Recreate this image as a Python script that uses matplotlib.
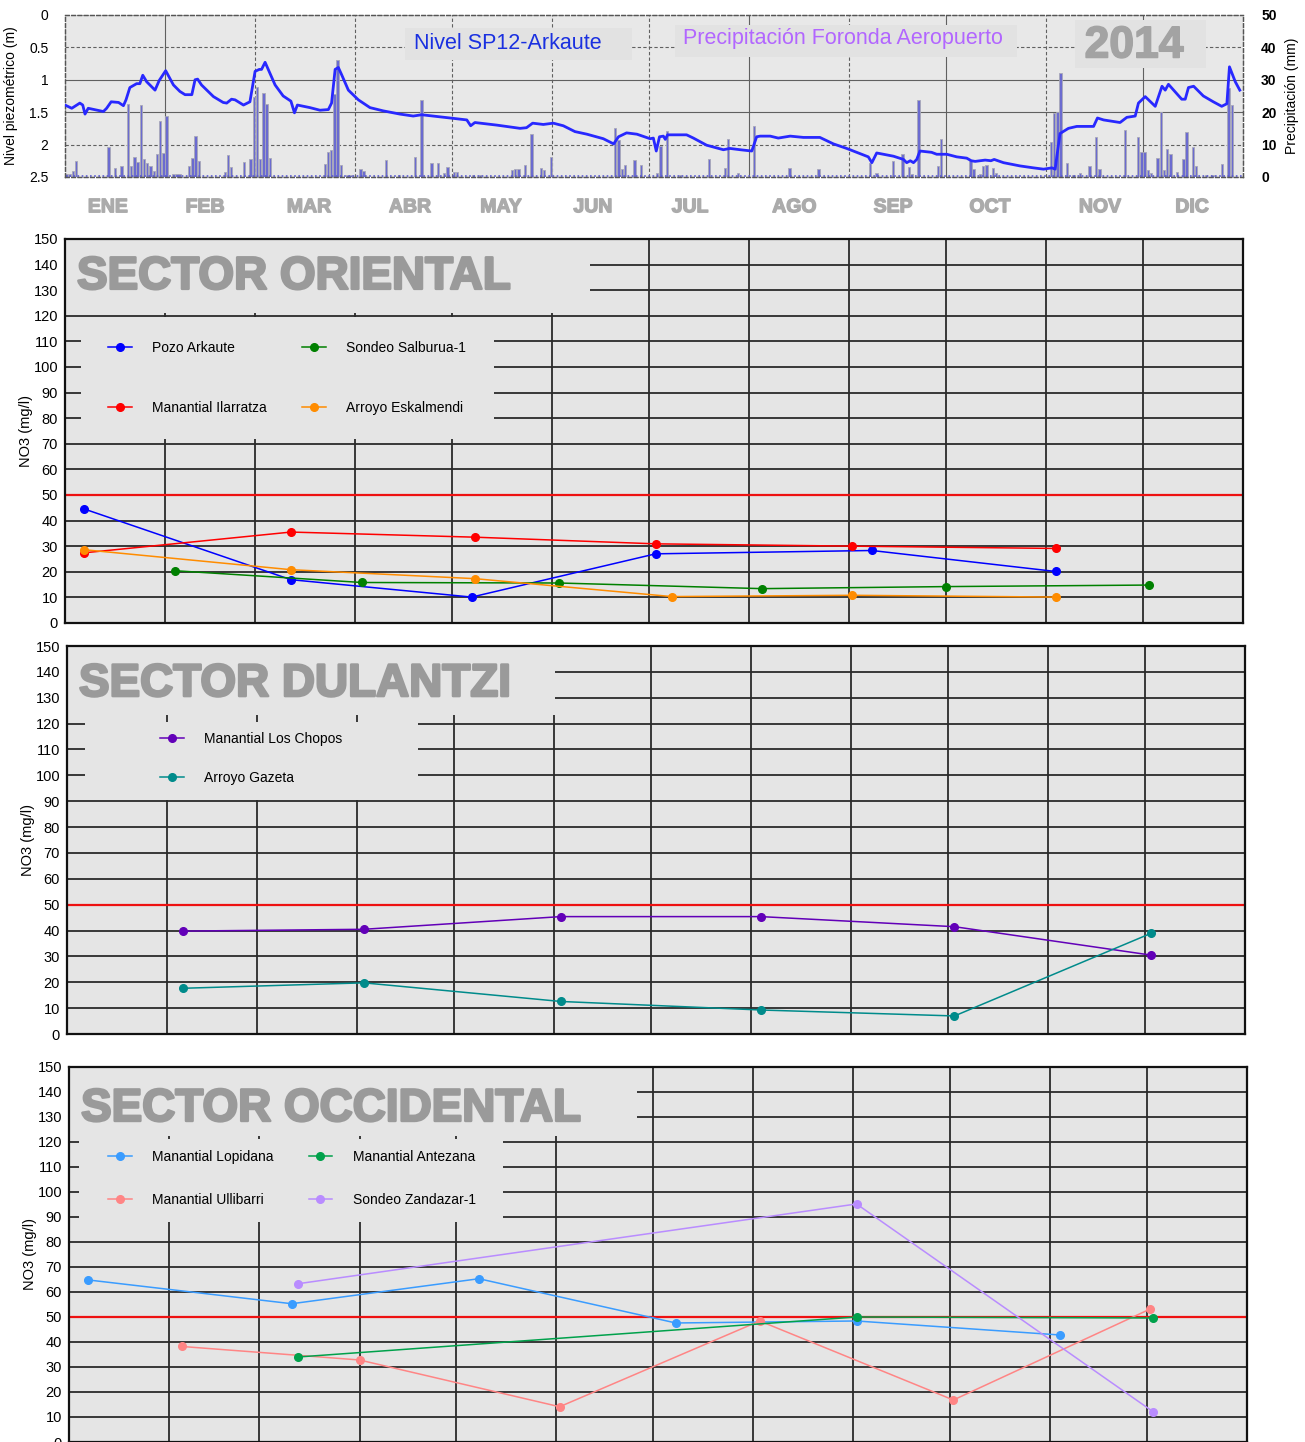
import numpy as np
import matplotlib
matplotlib.use("Agg")
import matplotlib.pyplot as plt
from matplotlib.patches import Rectangle
import matplotlib.patheffects as pe

plt.rcParams['font.family'] = ['Liberation Sans', 'DejaVu Sans']

# ---------------- data ----------------
month_len = [31, 28, 31, 30, 31, 30, 31, 31, 30, 31, 30, 31]
month_names = ["ENE", "FEB", "MAR", "ABR", "MAY", "JUN", "JUL", "AGO", "SEP", "OCT", "NOV", "DIC"]
# where the month names sit under the top panel (day of year)
month_label_day = [13.3, 43.4, 75.6, 106.9, 135.1, 163.6, 193.7, 226.0, 256.6, 286.6, 320.7, 349.2]

# piezometric level SP12-Arkaute (day of year, m below ground)
level_day = [0, 2.1, 4.6, 5.5, 6.2, 7.2, 11.9, 12.9, 14.3, 16.6, 18.1, 18.9, 20.1, 22.2, 23.2, 24.1,
             25.3, 27.9, 29.2, 31.2, 33.6, 35.6, 37.2, 39.3, 40.3, 41.1, 42.3, 46, 49, 50.1, 51.6,
             52.7, 55.3, 57.3, 58.9, 60.2, 60.9, 62, 63.5, 65.1, 67.6, 70, 71.1, 72, 75.9, 79,
             81.6, 82.6, 83.7, 84.7, 85.7, 87.8, 90.9, 94.5, 98.6, 103.8, 107.9, 110.5, 114.1,
             119.3, 124.5, 125.7, 127, 133.8, 141, 143, 144.9, 148.2, 151.3, 154.4, 158, 161.7,
             166.8, 170, 171.5, 174, 177.2, 181.3, 182.3, 183.2, 184.2, 185.4, 186, 186.7, 192.6,
             194.7, 198.8, 204, 206, 209.2, 212.8, 214.3, 215.4, 218.5, 221, 224.7, 228.8, 233.9,
             238.1, 242.2, 245.3, 248.9, 250, 251.5, 256.7, 259.8, 260.8, 261.9, 262.9, 263.9,
             264.9, 268.5, 270.1, 273.2, 276.3, 279.4, 280.8, 282, 285.1, 286.9, 287.9, 290.8,
             295.9, 300.1, 303.2, 305.8, 306.8, 307.3, 308.3, 310.9, 313.5, 318.7, 319.9, 321.8,
             326.9, 329, 331.6, 332.6, 334.7, 337.8, 339.9, 340.9, 341.9, 346, 347.1, 348.1,
             349.7, 352.7, 355.8, 358.4, 360, 360.8, 362.6, 364]
level_m = [1.39, 1.44, 1.36, 1.39, 1.53, 1.44, 1.49, 1.44, 1.34, 1.35, 1.40, 1.31, 1.12, 1.06, 1.06, 0.93,
           1.03, 1.16, 1.01, 0.86, 1.08, 1.18, 1.23, 1.23, 1.00, 0.99, 1.08, 1.26, 1.35, 1.36, 1.30,
           1.31, 1.39, 1.34, 0.87, 0.84, 0.84, 0.73, 0.90, 1.08, 1.25, 1.33, 1.51, 1.39, 1.43, 1.47,
           1.46, 1.36, 0.84, 0.81, 0.92, 1.16, 1.31, 1.43, 1.48, 1.53, 1.56, 1.54, 1.56,
           1.59, 1.62, 1.71, 1.66, 1.70, 1.75, 1.74, 1.67, 1.69, 1.67, 1.71, 1.80, 1.84,
           1.91, 1.99, 1.88, 1.82, 1.84, 1.91, 1.90, 2.10, 1.88, 1.87, 1.92, 1.85, 1.85,
           1.90, 2.01, 2.08, 2.06, 2.08, 2.10, 1.88, 1.87, 1.87, 1.90, 1.87, 1.89, 1.89,
           1.99, 2.06, 2.12, 2.19, 2.28, 2.13, 2.18, 2.23, 2.28, 2.25, 2.28, 2.23,
           2.10, 2.12, 2.15, 2.15, 2.19, 2.21, 2.25, 2.26, 2.24, 2.25, 2.23, 2.28,
           2.33, 2.36, 2.38, 2.36, 2.38, 2.19, 1.83, 1.75, 1.72, 1.72, 1.59, 1.62,
           1.66, 1.58, 1.56, 1.36, 1.26, 1.41, 1.10, 1.16, 1.07, 1.30, 1.30, 1.12,
           1.10, 1.25, 1.34, 1.41, 1.37, 0.80, 1.03, 1.16]

# daily precipitation Foronda Aeropuerto (day of year, mm)
precip_day = [0, 1, 2, 3, 13, 15, 17, 19, 20, 21, 22, 23, 24, 25, 26, 27, 28, 29, 30, 31, 33, 34, 35,
              38, 39, 40, 41, 49, 50, 51, 55, 57, 58, 59, 60, 61, 62, 63, 80, 81, 82, 83, 84, 85,
              87, 88, 91, 92, 99, 103, 108, 110, 113, 115, 117, 118, 120, 121, 126, 128, 138, 139,
              140, 142, 144, 147, 148, 150, 170, 171, 172, 173, 176, 178, 183, 184, 186, 190, 199,
              204, 205, 208, 213, 224, 233, 249, 251, 256, 259, 261, 262, 264, 270, 271, 280, 281,
              283, 284, 285, 287, 288, 305, 306, 307, 308, 310, 312, 314, 317, 319, 320, 328, 332,
              333, 334, 335, 336, 338, 339, 340, 341, 342, 344, 346, 347, 349, 350, 353, 355, 358,
              360, 361]
precip_mm = [1.0, 1.0, 1.8, 5.0, 9.3, 2.9, 3.4, 22.6, 3.4, 6.2, 4.6, 22.1, 5.6, 4.3, 3.4, 1.8, 7.2, 17.3,
             7.4, 18.7, 0.8, 1.0, 1.0, 3.4, 6.0, 12.7, 4.8, 1.5, 6.7, 3.0, 4.7, 5.6, 24.7, 27.8, 5.6,
             26.0, 22.6, 6.0, 4.1, 7.7, 8.2, 25.5, 36.0, 3.6, 0.6, 0.6, 2.3, 1.7, 5.1, 0.7, 6.2, 23.7,
             4.3, 4.3, 1.2, 3.1, 1.5, 1.5, 0.5, 0.6, 2.0, 2.3, 2.3, 3.6, 13.4, 2.9, 2.0, 6.2, 15.1,
             11.3, 2.6, 3.8, 5.1, 3.6, 1.2, 9.5, 14.1, 0.6, 5.6, 2.8, 11.8, 1.2, 15.7, 2.8, 2.3, 4.3,
             1.2, 4.8, 7.2, 3.1, 0.8, 23.9, 3.3, 11.7, 4.9, 2.4, 1.0, 3.3, 3.8, 2.8, 1.3, 10.7, 19.8,
             20.2, 32.2, 4.3, 0.6, 1.3, 3.5, 12.2, 2.6, 14.6, 12.2, 7.7, 7.7, 2.0, 1.2, 5.9, 20.2,
             2.0, 8.7, 7.0, 1.5, 5.5, 13.9, 9.2, 3.3, 0.6, 0.6, 3.9, 27.6, 22.3]

# NO3 (mg/l) - Sector Oriental
arkaute_dates = ["2014-01-07", "2014-03-12", "2014-05-07", "2014-07-03", "2014-09-08", "2014-11-04"]
arkaute_no3 = [44.5, 16.9, 10.1, 27.0, 28.3, 20.1]
ilarratza_dates = ["2014-01-07", "2014-03-12", "2014-05-08", "2014-07-03", "2014-09-02", "2014-11-04"]
ilarratza_no3 = [27.4, 35.5, 33.5, 30.9, 30.0, 29.1]
salburua_dates = ["2014-02-04", "2014-04-03", "2014-06-03", "2014-08-05", "2014-10-01", "2014-12-03"]
salburua_no3 = [20.4, 15.8, 15.6, 13.4, 14.2, 14.8]
eskalmendi_dates = ["2014-01-07", "2014-03-12", "2014-05-08", "2014-07-08", "2014-09-02", "2014-11-04"]
eskalmendi_no3 = [28.6, 20.8, 17.3, 10.3, 10.8, 10.1]

# Sector Dulantzi
dulantzi_dates = ["2014-02-06", "2014-04-03", "2014-06-03", "2014-08-04", "2014-10-03", "2014-12-03"]
chopos_no3 = [39.8, 40.5, 45.4, 45.4, 41.5, 30.5]
gazeta_no3 = [17.7, 19.8, 12.6, 9.3, 7.0, 39.0]

# Sector Occidental
lopidana_dates = ["2014-01-07", "2014-03-11", "2014-05-08", "2014-07-08", "2014-09-02", "2014-11-04"]
lopidana_no3 = [64.8, 55.3, 65.3, 47.6, 48.4, 42.8]
ullibarri_dates = ["2014-02-05", "2014-04-01", "2014-06-02", "2014-08-03", "2014-10-02", "2014-12-02"]
ullibarri_no3 = [38.2, 32.8, 14.1, 48.4, 16.8, 53.2]
antezana_dates = ["2014-03-13", "2014-09-02", "2014-12-03"]
antezana_no3 = [34.0, 50.0, 49.6]
zandazar_dates = ["2014-03-13", "2014-09-02", "2014-12-03"]
zandazar_no3 = [63.3, 95.2, 12.0]

limit_no3 = 50


def doy(dates):
    return (np.array(dates, dtype="datetime64[D]") - np.datetime64("2014-01-01")).astype(float)


month_start = np.concatenate([[0], np.cumsum(month_len)])

fig = plt.figure(figsize=(13.05, 14.42), dpi=100)

# ---------------- top panel: level + precipitation ----------------
axp = fig.add_axes([0.0498, 0.8773, 0.9027, 0.1123])
axl = axp.twinx()
axl.set_zorder(axp.get_zorder() + 1)
axl.patch.set_visible(False)
axp.set_facecolor("#e8e8e8")

# grid drawn on the precipitation axes so it stays behind the level line
solid_v = [1, 7, 9, 11]
for i, m in enumerate(month_start[1:-1]):
    axp.axvline(m, color="#606060", lw=0.8, ls="-" if i + 1 in solid_v else (0, (3, 2)), zorder=0)
for lev in [0.5, 1.0, 1.5, 2.0]:
    axp.axhline((2.5 - lev) * 20, color="#606060", lw=0.8,
                ls="-" if lev in (1.0, 1.5) else (0, (3, 2)), zorder=0)

axp.bar(np.array(precip_day) + 0.5, precip_mm, width=0.75, color="#6b6bd0",
        edgecolor="#a8a8b8", linewidth=0.6, zorder=2)
axp.axhline(0.15, color="#5a5ad0", lw=1.2, ls=(0, (1, 1.5)), zorder=2)
axp.set_ylim(0, 50)
axp.set_xlim(0, 365)
axp.yaxis.tick_right()
axp.yaxis.set_label_position("right")
axp.set_yticks([0, 10, 20, 30, 40, 50])
axp.tick_params(axis="y", length=0, pad=13, labelsize=10)
for t in axp.get_yticklabels():
    t.set_fontweight("bold")
axp.set_ylabel("Precipitación (mm)", fontsize=10)
axp.yaxis.set_label_coords(1.036, 0.5)
axp.set_xticks([])

axl.plot(level_day, level_m, color="#2828ff", lw=2, zorder=3)
axl.set_ylim(2.5, 0)
axl.set_xlim(0, 365)
axl.yaxis.tick_left()
axl.yaxis.set_label_position("left")
axl.set_yticks([0, 0.5, 1, 1.5, 2, 2.5])
axl.set_yticklabels(["0", "0.5", "1", "1.5", "2", "2.5"])
axl.tick_params(axis="y", length=0, pad=12, labelsize=10)
axl.set_ylabel("Nivel piezométrico (m)", fontsize=10)
axl.yaxis.set_label_coords(-0.040, 0.5)

for ax in (axp, axl):
    for s in ax.spines.values():
        s.set_color("#555555")
        s.set_linestyle((0, (3, 2)))
        s.set_linewidth(0.9)

# text boxes
for (x0, x1, y0, y1) in [(0.2886, 0.4813, 0.722, 0.920), (0.518, 0.808, 0.741, 0.938),
                         (0.857, 0.969, 0.673, 0.969)]:
    axl.add_patch(Rectangle((x0, y0), x1 - x0, y1 - y0, transform=axl.transAxes,
                            facecolor="#e2e2e2", edgecolor="none", zorder=4))
axl.text(0.376, 0.827, "Nivel SP12-Arkaute", transform=axl.transAxes, ha="center", va="center",
         fontsize=15.5, color="#1a30e0", zorder=5)
axl.text(0.660, 0.852, "Precipitación Foronda Aeropuerto", transform=axl.transAxes,
         ha="center", va="center", fontsize=15.5, color="#b266ff", zorder=5)
axl.text(0.9075, 0.809, "2014", transform=axl.transAxes, ha="center", va="center",
         fontsize=32, fontweight="bold", color="#a3a3a3", zorder=5,
         path_effects=[pe.withStroke(linewidth=1.2, foreground="#a3a3a3")])

for name, d in zip(month_names, month_label_day):
    axl.text(d, -0.19, name, transform=axl.get_xaxis_transform(), ha="center", va="center",
             fontsize=14, fontweight="bold", color="#ababab",
             path_effects=[pe.withStroke(linewidth=1.0, foreground="#ababab")])

# ---------------- NO3 panels ----------------
panels = [
    dict(rect=[0.0498, 0.5680, 0.9027, 0.2663], title="SECTOR ORIENTAL", ty=0.870,
         tbox=(0, 0.4457, 0.808, 1.0), lbox=(0.0136, 0.3642, 0.478, 0.797),
         series=[("Pozo Arkaute", arkaute_dates, arkaute_no3, "#0000ff"),
                 ("Manantial Ilarratza", ilarratza_dates, ilarratza_no3, "#ff0000"),
                 ("Sondeo Salburua-1", salburua_dates, salburua_no3, "#008000"),
                 ("Arroyo Eskalmendi", eskalmendi_dates, eskalmendi_no3, "#ff8c00")],
         ncol=2, lspace=3.3, lanchor=(0.0365, 0.735)),
    dict(rect=[0.0513, 0.2829, 0.9027, 0.2691], title="SECTOR DULANTZI", ty=0.871,
         tbox=(0, 0.4143, 0.822, 1.0), lbox=(0.0153, 0.298, 0.603, 0.805),
         series=[("Manantial Los Chopos", dulantzi_dates, chopos_no3, "#6200b8"),
                 ("Arroyo Gazeta", dulantzi_dates, gazeta_no3, "#008b8b")],
         ncol=1, lspace=1.8, lanchor=(0.079, 0.778)),
    dict(rect=[0.0529, 0.0, 0.9027, 0.2601], title="SECTOR OCCIDENTAL", ty=0.856,
         tbox=(0, 0.482, 0.816, 1.0), lbox=(0.0085, 0.368, 0.587, 0.807),
         series=[("Manantial Lopidana", lopidana_dates, lopidana_no3, "#3a9cff"),
                 ("Manantial Ullibarri", ullibarri_dates, ullibarri_no3, "#ff8585"),
                 ("Manantial Antezana", antezana_dates, antezana_no3, "#00a14b"),
                 ("Sondeo Zandazar-1", zandazar_dates, zandazar_no3, "#b98cff")],
         ncol=2, lspace=2.1, lanchor=(0.033, 0.779)),
]

for p in panels:
    ax = fig.add_axes(p["rect"])
    ax.set_facecolor("#e5e5e5")
    ax.set_xlim(0, 365)
    ax.set_ylim(0, 150)
    for m in month_start[1:-1]:
        ax.axvline(m, color="#2a2a2a", lw=1.3, zorder=0.5)
    for v in range(10, 150, 10):
        ax.axhline(v, color="#2a2a2a", lw=1.3, zorder=0.5)
    x0, x1, y0, y1 = p["tbox"]
    ax.add_patch(Rectangle((x0, y0), x1 - x0, y1 - y0, transform=ax.transAxes,
                           facecolor="#e5e5e5", edgecolor="none", zorder=1))
    x0, x1, y0, y1 = p["lbox"]
    ax.add_patch(Rectangle((x0, y0), x1 - x0, y1 - y0, transform=ax.transAxes,
                           facecolor="#e5e5e5", edgecolor="none", zorder=1))
    ax.text(0.0102, p["ty"], p["title"], transform=ax.transAxes, ha="left", va="baseline",
            fontsize=33, fontweight="bold", color="#9a9a9a", zorder=2,
            path_effects=[pe.withStroke(linewidth=1.8, foreground="#9a9a9a")])
    ax.axhline(limit_no3, color="#ee1111", lw=1.6, zorder=2)
    handles = []
    for label, dates, vals, col in p["series"]:
        h, = ax.plot(doy(dates), vals, color=col, lw=1.1, marker="o", ms=5.5, zorder=3,
                     label=label)
        handles.append(h)
    ax.legend(handles=handles, ncol=p["ncol"], loc="upper left", bbox_to_anchor=p["lanchor"],
              frameon=False, fontsize=10, labelspacing=p["lspace"], columnspacing=2.5,
              handlelength=1.7, handletextpad=1.5, borderpad=0, borderaxespad=0)
    ax.set_yticks(range(0, 151, 10))
    ax.tick_params(axis="y", length=0, pad=5, labelsize=10.5)
    ax.set_xticks([])
    ax.set_ylabel("NO3 (mg/l)", fontsize=10.5)
    ax.yaxis.set_label_coords(-0.027, 0.5)
    for s in ax.spines.values():
        s.set_color("#111111")
        s.set_linewidth(1.6)
        s.set_zorder(4)

fig.savefig("out.png", dpi=100)
